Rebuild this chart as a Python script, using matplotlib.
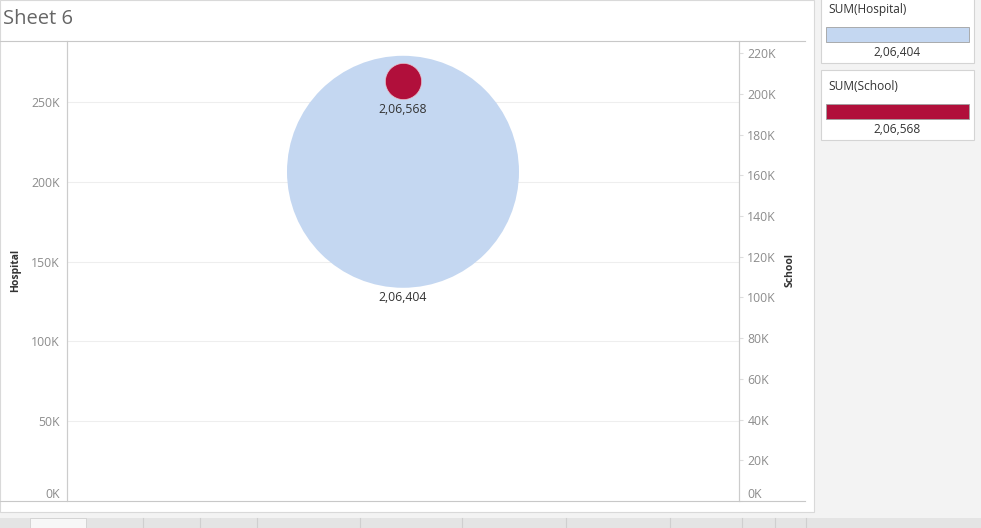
import matplotlib
matplotlib.use("Agg")
import matplotlib.pyplot as plt
from matplotlib.patches import Rectangle
from matplotlib.lines import Line2D

measures = ["Hospital", "School"]
values = [206404, 206568]
left_ticks = [0, 50000, 100000, 150000, 200000, 250000]
right_ticks = [0, 20000, 40000, 60000, 80000, 100000, 120000, 140000,
               160000, 180000, 200000, 220000]

BLUE = "#c4d7f1"
RED = "#b10f3b"
W, H = 981, 528

plt.rcParams["font.family"] = ["Open Sans", "DejaVu Sans"]


def indian(n):
    # 206404 -> 2,06,404
    s = str(int(n))
    head, tail = s[:-3], s[-3:]
    parts = []
    while len(head) > 2:
        parts.insert(0, head[-2:])
        head = head[:-2]
    if head:
        parts.insert(0, head)
    return ",".join(parts + [tail])


def kfmt(v, pos=None):
    return f"{v / 1000:.0f}K"


def fx(px):
    return px / W


def fy(py):
    return 1 - py / H


fig = plt.figure(figsize=(W / 100, H / 100), dpi=100)
fig.patch.set_facecolor("#f3f3f3")

# white sheet area and tab bar
fig.add_artist(Rectangle((0, fy(512)), fx(814), 1 - fy(512), transform=fig.transFigure,
                         facecolor="white", edgecolor="#d9d9d9", lw=0.8, zorder=0))
fig.add_artist(Rectangle((0, 0), 1, fy(518), transform=fig.transFigure,
                         facecolor="#e4e4e4", edgecolor="none", zorder=0))
fig.add_artist(Rectangle((fx(30), 0), fx(56), fy(518), transform=fig.transFigure,
                         facecolor="#f7f7f7", edgecolor="#d0d0d0", lw=0.6, zorder=0))
for sx in [143, 200, 257, 360, 462, 566, 670, 742, 775, 806]:
    fig.add_artist(Line2D([fx(sx), fx(sx)], [0, fy(518)], transform=fig.transFigure,
                          color="#cfcfcf", lw=0.8))

ax = fig.add_axes([fx(67), fy(501), fx(739) - fx(67), fy(41) - fy(501)])
ax2 = ax.twinx()

ax.set_xlim(-1, 1)
ax.set_ylim(0, 288400)
ax2.set_ylim(0, 226000)
ax.set_xticks([])

ax.set_yticks(left_ticks)
ax.yaxis.set_major_formatter(plt.FuncFormatter(kfmt))
ax2.set_yticks(right_ticks)
ax2.yaxis.set_major_formatter(plt.FuncFormatter(kfmt))
ax.tick_params(axis="y", length=0, pad=5, labelsize=8.8, labelcolor="#8c8c8c")
ax2.tick_params(axis="y", length=3, color="#dddddd", pad=3, labelsize=8.8, labelcolor="#8c8c8c")
ax.get_yticklabels()[0].set_va("bottom")
ax2.get_yticklabels()[0].set_va("bottom")

ax.grid(axis="y", color="#eeeeee", lw=0.8)
ax.set_axisbelow(True)
for a in (ax, ax2):
    a.set_facecolor("none")
    a.spines["top"].set_visible(False)
    a.spines["bottom"].set_visible(False)
    a.spines["left"].set_color("#cccccc")
    a.spines["right"].set_color("#cccccc")
    a.spines["left"].set_linewidth(0.8)
    a.spines["right"].set_linewidth(0.8)

# marks: Hospital on left axis, School on right axis
ax.scatter([0], [values[0]], s=27900, color=BLUE, edgecolor="none", zorder=3)
ax.annotate(indian(values[0]), (0, values[0]), xytext=(0, -90.5), textcoords="offset points",
            ha="center", va="center", fontsize=8.8, color="#333333")
ax2.scatter([0], [values[1]], s=680, color=RED, edgecolor="#e8c0cb", lw=0.5, zorder=3)
ax2.annotate(indian(values[1]), (0, values[1]), xytext=(0, -20.5), textcoords="offset points",
             ha="center", va="center", fontsize=8.8, color="#333333")

# pane border lines
for py in (41, 501):
    fig.add_artist(Line2D([0, fx(805)], [fy(py), fy(py)], transform=fig.transFigure,
                          color="#c8c8c8", lw=0.8))

fig.text(fx(3), fy(19), "Sheet 6", fontsize=14.5, color="#666666", va="center", ha="left")
fig.text(fx(16), fy(270), measures[0], rotation=90, fontsize=7.5, fontweight="bold",
         color="#333333", ha="center", va="center")
fig.text(fx(790), fy(270), measures[1], rotation=90, fontsize=7.5, fontweight="bold",
         color="#333333", ha="center", va="center")

# legend cards
for i, (name, val, col) in enumerate(zip(measures, values, [BLUE, RED])):
    top = -7 + i * 77
    fig.add_artist(Rectangle((fx(821), fy(top + 70)), fx(974) - fx(821), fy(top) - fy(top + 70),
                             transform=fig.transFigure, facecolor="white",
                             edgecolor="#d4d4d4", lw=0.8))
    fig.text(fx(828), fy(top + 16), f"SUM({name})", fontsize=8.6, color="#333333",
             va="center", ha="left")
    fig.add_artist(Rectangle((fx(826), fy(top + 49)), fx(969) - fx(826), fy(top + 34) - fy(top + 49),
                             transform=fig.transFigure, facecolor=col,
                             edgecolor="#a0a0a0", lw=0.6))
    fig.text(fx(897), fy(top + 59), indian(val), fontsize=8.6, color="#333333",
             va="center", ha="center")

fig.savefig("out.png", dpi=100, facecolor=fig.get_facecolor())
